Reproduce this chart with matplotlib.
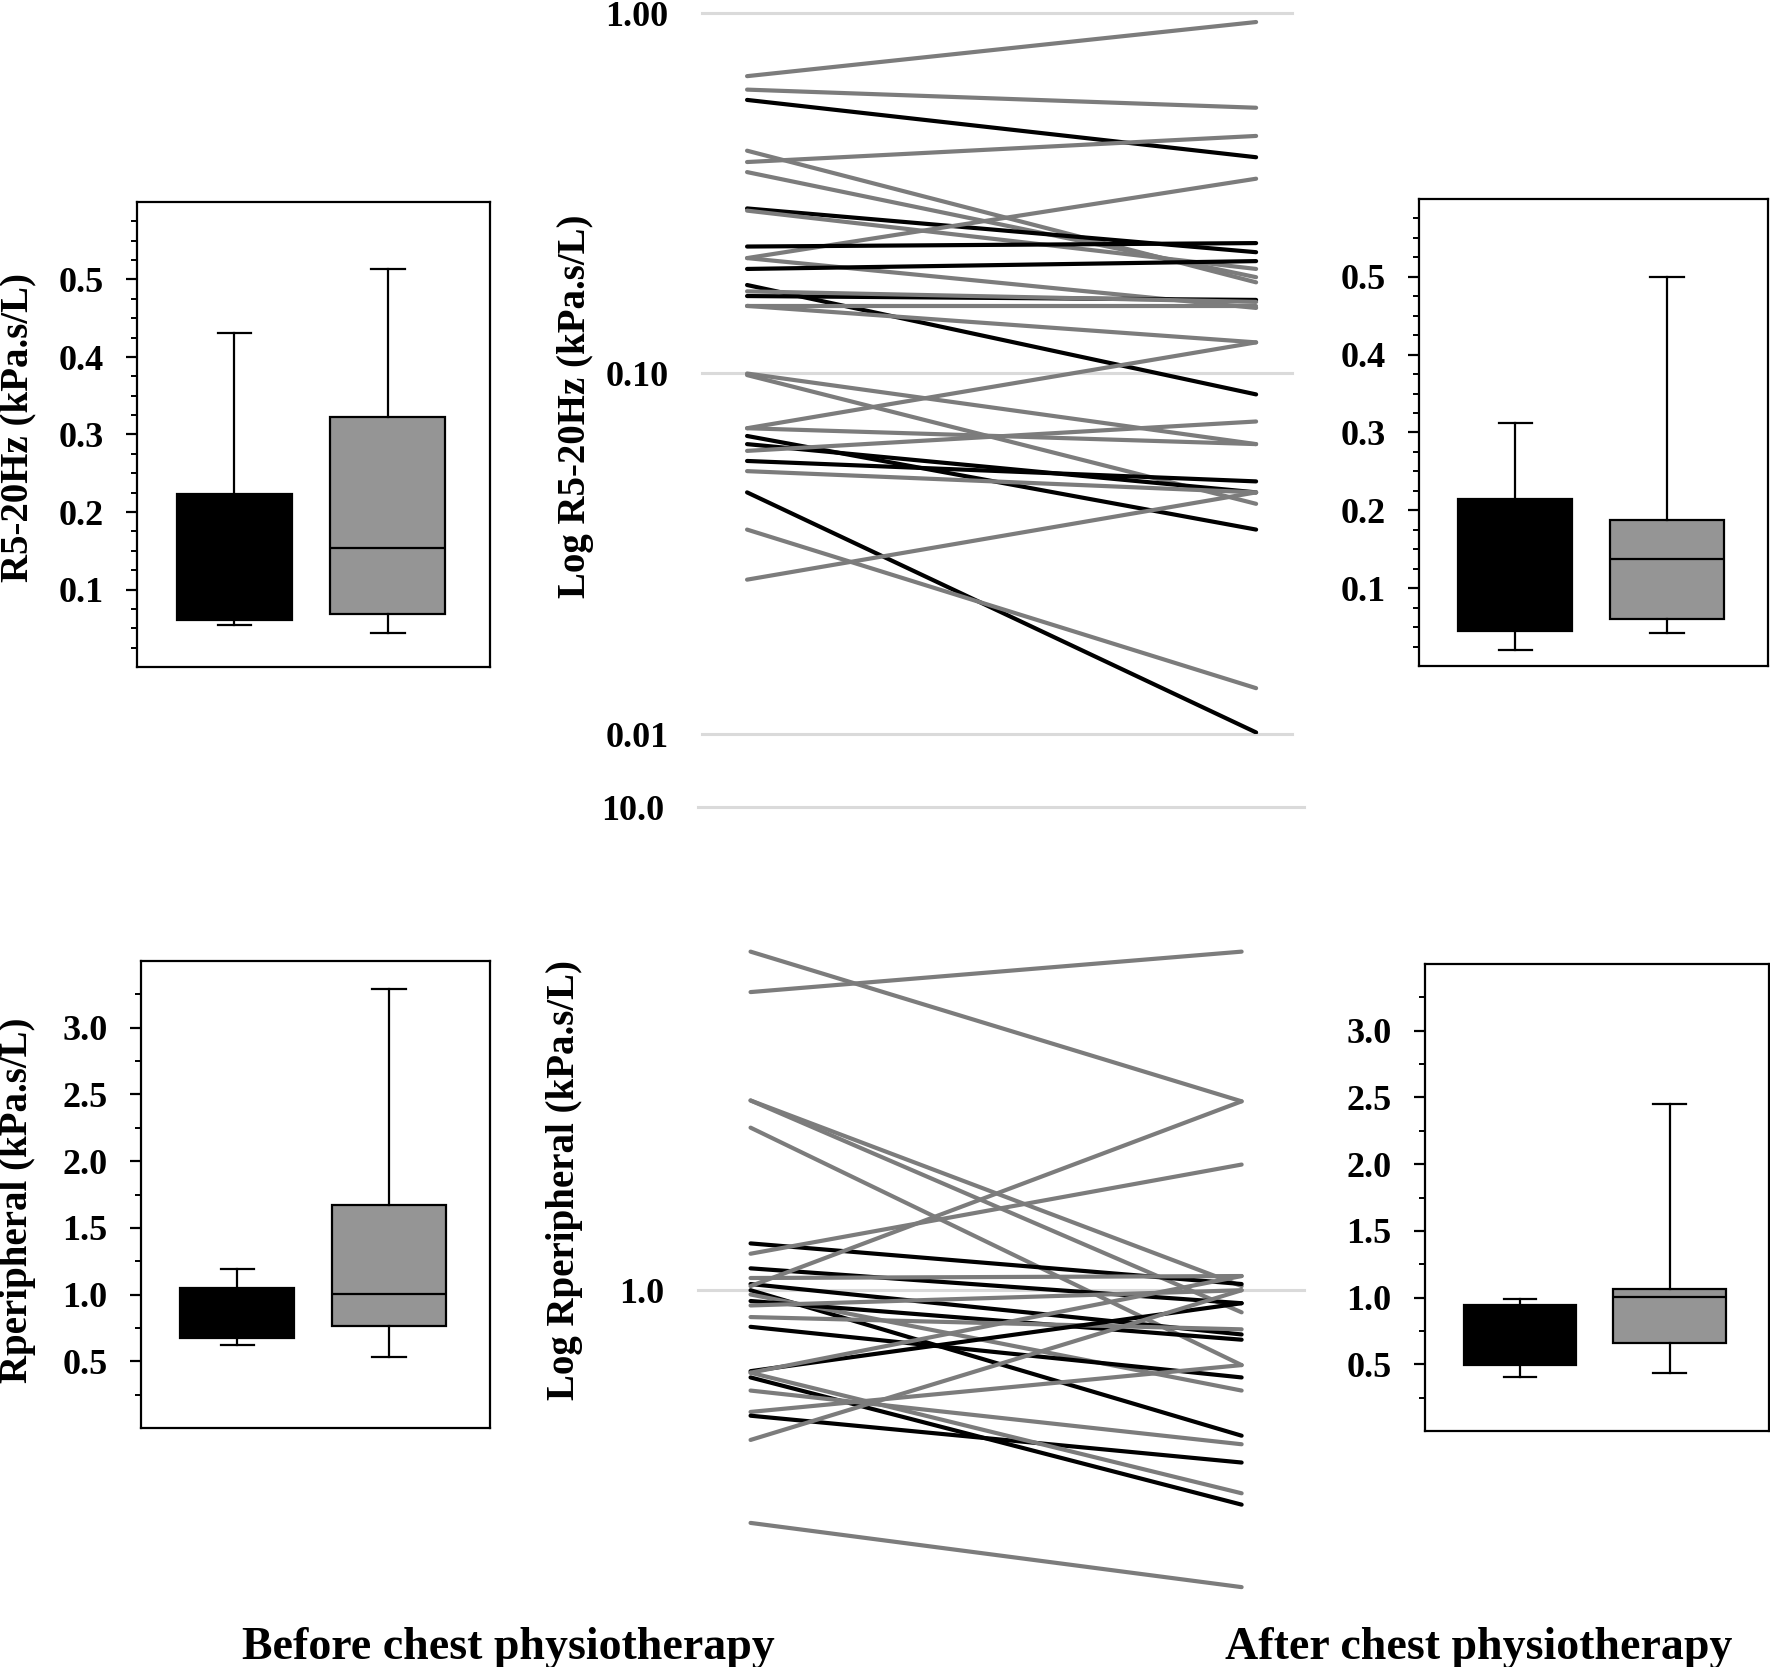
import numpy as np
import matplotlib
matplotlib.use("Agg")
import matplotlib.pyplot as plt
from matplotlib.ticker import FixedLocator, NullLocator

plt.rcParams["font.family"] = ["Liberation Serif", "DejaVu Serif"]
plt.rcParams["font.weight"] = "bold"

BLACK = "#000000"
GREY_LINE = "#7c7c7c"
GREY_BOX = "#959595"
GRID = "#dadada"

# box summaries, each as (whisker low, q1, median, q3, whisker high)
r5_before_black = [0.054, 0.061, 0.12, 0.223, 0.431]
r5_before_grey = [0.044, 0.069, 0.154, 0.322, 0.513]
r5_after_black = [0.021, 0.045, 0.11, 0.215, 0.312]
r5_after_grey = [0.042, 0.061, 0.137, 0.187, 0.500]
rp_before_black = [0.619, 0.674, 0.85, 1.047, 1.188]
rp_before_grey = [0.533, 0.768, 1.004, 1.674, 3.288]
rp_after_black = [0.406, 0.498, 0.70, 0.944, 0.988]
rp_after_grey = [0.431, 0.661, 1.008, 1.063, 2.451]

# paired patients, R5-20Hz (kPa.s/L)
r5_pre = [0.668, 0.613, 0.574, 0.386, 0.415, 0.362, 0.287, 0.283, 0.209, 0.225,
          0.209, 0.195, 0.176, 0.164, 0.169, 0.154, 0.154, 0.100, 0.099, 0.0705,
          0.0705, 0.0671, 0.0637, 0.0610, 0.0572, 0.0536, 0.0468, 0.0369, 0.0268]
r5_post = [0.944, 0.546, 0.398, 0.456, 0.179, 0.185, 0.217, 0.195, 0.347, 0.230,
           0.152, 0.205, 0.0875, 0.160, 0.158, 0.154, 0.122, 0.0637, 0.0435, 0.122,
           0.0637, 0.0369, 0.0468, 0.0736, 0.0502, 0.0468, 0.0101, 0.0134, 0.0468]
r5_group = ["g", "g", "b", "g", "g", "g", "b", "g", "g", "b",
            "g", "b", "b", "b", "g", "g", "g", "g", "g", "g",
            "g", "b", "b", "g", "b", "g", "b", "g", "g"]

# paired patients, Rperipheral (kPa.s/L)
rp_pre = [5.02, 4.14, 2.47, 2.47, 2.17, 1.25, 1.19, 1.11, 1.06, 1.03,
          1.02, 1.00, 0.98, 0.95, 0.93, 0.88, 0.84, 0.68, 0.675, 0.66,
          0.62, 0.56, 0.55, 0.49, 0.675, 0.33]
rp_post = [2.46, 5.02, 1.02, 0.90, 0.70, 1.03, 1.82, 0.94, 1.07, 0.81,
           2.46, 0.50, 0.62, 0.79, 1.00, 0.83, 0.66, 0.94, 1.07, 0.36,
           0.48, 0.70, 0.44, 1.00, 0.38, 0.243]
rp_group = ["g", "g", "g", "g", "g", "b", "g", "b", "g", "b",
            "g", "b", "g", "b", "g", "g", "b", "b", "g", "b",
            "g", "g", "b", "g", "g", "g"]

W = 1770
H = 1667
fig = plt.figure(figsize=(W / 100, H / 100), dpi=100)


def px_axes(left, top, right, bottom):
    return fig.add_axes([left / W, 1 - bottom / H, (right - left) / W, (bottom - top) / H])


def stats(v):
    lo, q1, med, q3, hi = v
    return dict(whislo=lo, q1=q1, med=med, q3=q3, whishi=hi, fliers=[])


def set_label(ax, text, xy):
    ax.set_ylabel(text, fontsize=28, fontweight="bold", va="center")
    ax.yaxis.set_label_coords(*xy)


def box_panel(ax, black, grey, ylim, majors, minors):
    for st, fc in ((black, BLACK), (grey, GREY_BOX)):
        pos = 1 if fc == BLACK else 2
        ax.bxp([stats(st)], positions=[pos], widths=0.75, capwidths=0.22,
               patch_artist=True, showfliers=False,
               boxprops=dict(facecolor=fc, edgecolor=BLACK, linewidth=1.6),
               medianprops=dict(color=BLACK, linewidth=1.6),
               whiskerprops=dict(color=BLACK, linewidth=1.6),
               capprops=dict(color=BLACK, linewidth=1.6))
    ax.set_xlim(0.365, 2.665)
    ax.set_ylim(*ylim)
    ax.xaxis.set_major_locator(NullLocator())
    ax.yaxis.set_major_locator(FixedLocator(majors))
    ax.yaxis.set_minor_locator(FixedLocator(minors))
    ax.set_yticklabels([f"{m:.1f}" for m in majors])
    ax.tick_params(axis="y", which="major", length=8, width=1.6, pad=16, labelsize=26)
    ax.tick_params(axis="y", which="minor", length=4, width=1.4)
    for s in ax.spines.values():
        s.set_linewidth(1.6)


r5_major = [0.1, 0.2, 0.3, 0.4, 0.5]
r5_minor = list(np.arange(0.025, 0.58, 0.025))
rp_major = [0.5, 1.0, 1.5, 2.0, 2.5, 3.0]
rp_minor = list(np.arange(0.25, 3.3, 0.25))

ax1 = px_axes(137, 202, 490, 667)
box_panel(ax1, r5_before_black, r5_before_grey, (0, 0.6), r5_major, r5_minor)
set_label(ax1, "R5-20Hz (kPa.s/L)", (-0.337, 0.515))

ax2 = px_axes(1419, 199, 1768, 666)
box_panel(ax2, r5_after_black, r5_after_grey, (0, 0.6), r5_major, r5_minor)

ax3 = px_axes(141, 961, 490, 1428)
box_panel(ax3, rp_before_black, rp_before_grey, (0, 3.5), rp_major, rp_minor)
set_label(ax3, "Rperipheral (kPa.s/L)", (-0.353, 0.488))

ax4 = px_axes(1425, 964, 1769, 1431)
box_panel(ax4, rp_after_black, rp_after_grey, (0, 3.5), rp_major, rp_minor)


def spaghetti(ax, pre, post, group, ylim, ticks, labels, xlim):
    ax.set_yscale("log")
    for t in ticks:
        ax.axhline(t, color=GRID, lw=2.2, zorder=0, clip_on=False)
    for a, b, g in zip(pre, post, group):
        ax.plot([0, 1], [a, b], color=BLACK if g == "b" else GREY_LINE,
                lw=3.0, solid_capstyle="round", zorder=2)
    ax.set_xlim(*xlim)
    ax.set_ylim(*ylim)
    ax.set_yticks(ticks, labels)
    ax.yaxis.set_minor_locator(NullLocator())
    ax.xaxis.set_major_locator(NullLocator())
    ax.tick_params(axis="y", length=0, pad=24, labelsize=26)
    for s in ax.spines.values():
        s.set_visible(False)


ax5 = px_axes(702, 13, 1292, 734)
spaghetti(ax5, r5_pre, r5_post, r5_group, (0.01, 1.0), [1.0, 0.1, 0.01],
          ["1.00", "0.10", "0.01"], (-0.0885, 1.0705))
set_label(ax5, "Log R5-20Hz (kPa.s/L)", (-0.2136, 0.455))

ax6 = px_axes(698, 807, 1304, 1608)
spaghetti(ax6, rp_pre, rp_post, rp_group, (0.22, 10.0), [10.0, 1.0],
          ["10.0", "1.0"], (-0.107, 1.127))
set_label(ax6, "Log Rperipheral (kPa.s/L)", (-0.221, 0.534))

fig.text(508 / W, 1 - 1659 / H, "Before chest physiotherapy", ha="center",
         va="baseline", fontsize=33, fontweight="bold")
fig.text(1479 / W, 1 - 1659 / H, "After chest physiotherapy", ha="center",
         va="baseline", fontsize=33, fontweight="bold")

fig.savefig("out.png", dpi=100)
